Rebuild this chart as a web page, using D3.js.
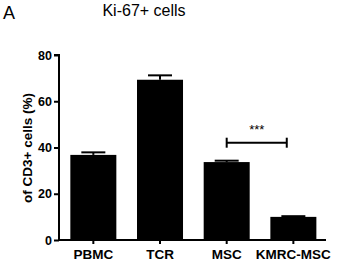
<!DOCTYPE html>
<html><head><meta charset="utf-8">
<script src="https://cdn.jsdelivr.net/npm/d3@7"></script>
<style>html,body{margin:0;padding:0;background:#fff;}svg{display:block;font-family:"Liberation Sans",Arial,sans-serif;}</style>
</head><body>
<script>
const categories = ["PBMC", "TCR", "MSC", "KMRC-MSC"];
const values = [36.8, 69.3, 33.7, 10.0];
const errors = [1.1, 1.9, 0.6, 0.3];
const yTicks = [0, 20, 40, 60, 80];
const title = "Ki-67+ cells";
const panel = "A";
const yLabel = "of CD3+ cells (%)";
const sig = {from: "MSC", to: "KMRC-MSC", label: "***"};

const W = 337, H = 263;
const svg = d3.select("body").append("svg").attr("width", W).attr("height", H);

const x = d3.scaleBand().domain(categories).range([60, 326.7]).paddingInner(0.31).paddingOuter(0.155);
const y = d3.scaleLinear().domain([0, 80]).range([240, 55]);

// bars
svg.selectAll("rect.bar").data(categories).enter().append("rect")
  .attr("x", d => x(d)).attr("width", x.bandwidth())
  .attr("y", (d, i) => y(values[i])).attr("height", (d, i) => y(0) - y(values[i]))
  .attr("fill", "#000");

// error bars (upper)
const capW = 24;
categories.forEach((c, i) => {
  const cx = x(c) + x.bandwidth() / 2;
  svg.append("line").attr("x1", cx).attr("x2", cx).attr("y1", y(values[i])).attr("y2", y(values[i] + errors[i]))
    .attr("stroke", "#000").attr("stroke-width", 2);
  svg.append("line").attr("x1", cx - capW / 2).attr("x2", cx + capW / 2)
    .attr("y1", y(values[i] + errors[i])).attr("y2", y(values[i] + errors[i]))
    .attr("stroke", "#000").attr("stroke-width", 2);
});

// y axis
const yAxis = d3.axisLeft(y).tickValues(yTicks).tickSize(5).tickPadding(2);
const gy = svg.append("g").attr("transform", "translate(59,0)").call(yAxis);
gy.select(".domain").attr("stroke-width", 2).attr("d", `M-5,${y(80)}H0V${y(0)}`);
gy.selectAll(".tick line").attr("stroke-width", 2);
gy.selectAll(".tick text").attr("font-size", 12.5).attr("font-weight", "bold").attr("fill", "#000")
  .attr("font-family", "Liberation Sans, Arial, sans-serif");

// x axis
const xAxis = d3.axisBottom(x).tickSize(4).tickPadding(5).tickSizeOuter(0);
const gx = svg.append("g").attr("transform", "translate(0,240)").call(xAxis);
gx.select(".domain").attr("stroke-width", 2).attr("d", "M58,0H326");
gx.selectAll(".tick line").attr("stroke-width", 2);
gx.selectAll(".tick text").attr("font-size", 13.5).attr("font-weight", "bold").attr("fill", "#000")
  .attr("font-family", "Liberation Sans, Arial, sans-serif");

// y label
svg.append("text").attr("transform", "translate(32,148) rotate(-90)")
  .attr("text-anchor", "middle").attr("font-size", 13.5).attr("font-weight", "bold").text(yLabel);

// title
svg.append("text").attr("x", 144).attr("y", 16).attr("text-anchor", "middle").attr("font-size", 16).text(title);
svg.append("text").attr("x", 3).attr("y", 19).attr("font-size", 18).text(panel);

// significance bracket
const sx1 = x(sig.from) + x.bandwidth() / 2, sx2 = x(sig.to) + x.bandwidth() / 2 - 6.6;
const by = 142.7;
svg.append("line").attr("x1", sx1).attr("x2", sx2).attr("y1", by).attr("y2", by).attr("stroke", "#000").attr("stroke-width", 2);
[sx1, sx2].forEach(sx => svg.append("line").attr("x1", sx).attr("x2", sx).attr("y1", by - 5).attr("y2", by + 5)
  .attr("stroke", "#000").attr("stroke-width", 2));
svg.append("text").attr("x", (sx1 + sx2) / 2).attr("y", 134).attr("text-anchor", "middle").attr("font-size", 13).text(sig.label);
</script>
</body></html>
